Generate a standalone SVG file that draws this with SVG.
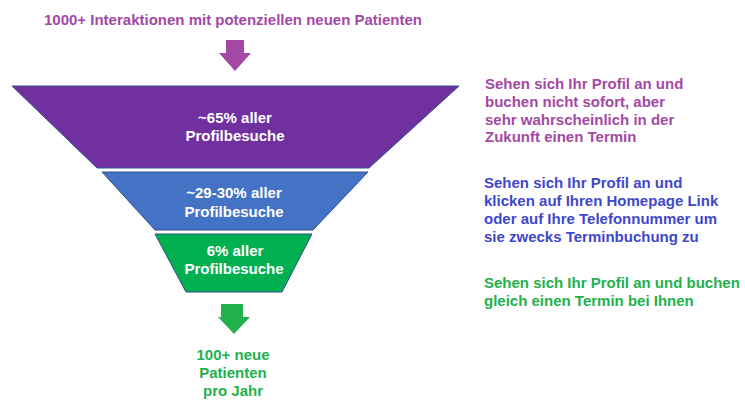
<svg xmlns="http://www.w3.org/2000/svg" width="745" height="408" viewBox="0 0 745 408">
<style>
text{font-family:"Liberation Sans",Arial,sans-serif;font-weight:bold;font-size:15px}
.w{fill:#ffffff;text-anchor:middle}
.p{fill:#A349A4}
.b{fill:#3F48CC}
.g{fill:#22B14C}
.c{text-anchor:middle}
.seg{stroke:#2F528F;stroke-width:1}
</style>
<rect width="745" height="408" fill="#ffffff"/>
<g id="title"><text class="p c" x="233" y="25">1000+ Interaktionen mit potenziellen neuen Patienten</text></g>
<g id="connectors">
<polygon points="226,40 244,40 244,53 251,53 235,71 219,53 226,53" fill="#A349A4"/>
<polygon points="221,304 243,304 243,317 250,317 234,334 218,317 221,317" fill="#22B14C"/>
</g>
<g id="stage1">
<polygon class="seg" points="12,86 459,86 369,168 97,168" fill="#7030A0"/>
<text class="w" x="235" y="123">~65% aller</text>
<text class="w" x="235" y="141">Profilbesuche</text>
</g>
<g id="stage2">
<polygon class="seg" points="102,172 368,172 313,230 155,230" fill="#4472C4"/>
<text class="w" x="234" y="198">~29-30% aller</text>
<text class="w" x="234" y="217">Profilbesuche</text>
</g>
<g id="stage3">
<polygon class="seg" points="155,234 312,234 282,292 186,292" fill="#00B050"/>
<text class="w" x="235" y="256">6% aller</text>
<text class="w" x="234" y="274">Profilbesuche</text>
</g>
<g id="result">
<text class="g c" x="233" y="360">100+ neue</text>
<text class="g c" x="233" y="378">Patienten</text>
<text class="g c" x="233" y="396">pro Jahr</text>
</g>
<g id="desc1">
<text class="p" x="485" y="89">Sehen sich Ihr Profil an und</text>
<text class="p" x="485" y="107">buchen nicht sofort, aber</text>
<text class="p" x="485" y="125">sehr wahrscheinlich in der</text>
<text class="p" x="485" y="142">Zukunft einen Termin</text>
</g>
<g id="desc2">
<text class="b" x="484" y="188">Sehen sich Ihr Profil an und</text>
<text class="b" x="484" y="206">klicken auf Ihren Homepage Link</text>
<text class="b" x="484" y="224">oder auf Ihre Telefonnummer um</text>
<text class="b" x="484" y="242">sie zwecks Terminbuchung zu</text>
</g>
<g id="desc3">
<text class="g" x="484" y="288">Sehen sich Ihr Profil an und buchen</text>
<text class="g" x="484" y="306">gleich einen Termin bei Ihnen</text>
</g>
</svg>
